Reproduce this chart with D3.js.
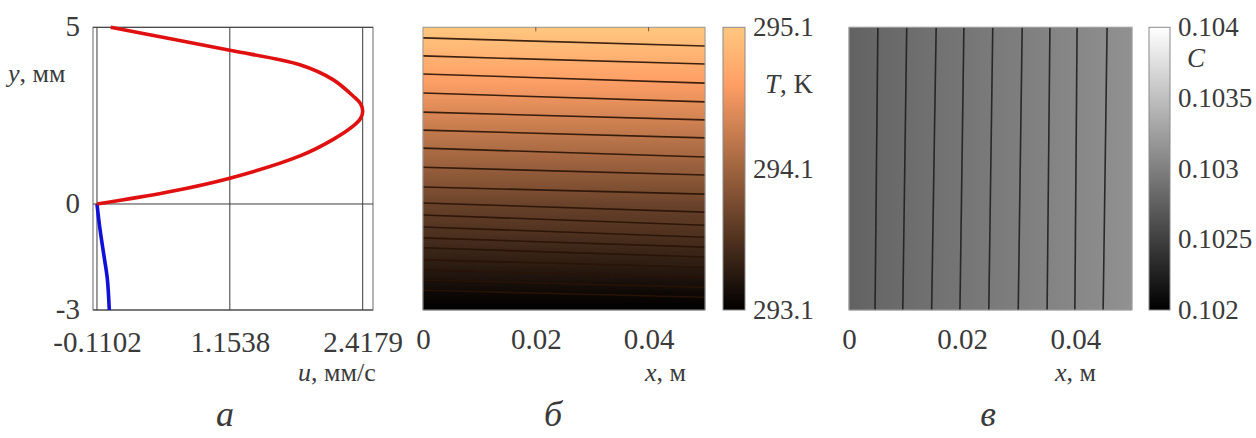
<!DOCTYPE html>
<html>
<head>
<meta charset="utf-8">
<script src="https://cdn.jsdelivr.net/npm/d3@7"></script>
<style>
body { margin: 0; background: #fff; }
</style>
</head>
<body>
<svg id="fig" width="1256" height="438"></svg>
<script>
"use strict"

//
// data
//
// panel a: velocity profile u(y)
var uTicks = [-0.1102, 1.1538, 2.4179];
var yTicks = [-3, 0, 5];
var redU  = [-0.1102, 0.553, 1.1538, 1.821, 2.138, 2.329, 2.397, 2.4179, 2.397, 2.329, 2.135, 1.821, 1.1538, 0.553, 0.02];
var redY  = [0, 0.33, 0.73, 1.36, 1.83, 2.21, 2.42, 2.62, 2.84, 3.05, 3.52, 3.94, 4.35, 4.70, 5.0];
var blueU = [-0.1102, -0.082, -0.044, -0.012, 0.007];
var blueY = [0, -0.70, -1.46, -2.11, -3.0];

// panels b, c: x axis
var xTicks = [0, 0.02, 0.04];

// panel b: temperature isolines (y, mm at x = 0 and at x = 0.05 m)
var tLevels    = [295.0, 294.86, 294.72, 294.58, 294.44, 294.30, 294.16, 294.02, 293.88,
                  293.74, 293.67, 293.60, 293.53, 293.46, 293.39, 293.32, 293.25, 293.18];
var tLineLeft  = [4.70, 4.19, 3.68, 3.14, 2.60, 2.09, 1.58, 1.04, 0.48,
                  0.03, -0.31, -0.65, -0.96, -1.24, -1.58, -1.87, -2.15, -2.44];
var tLineRight = [4.47, 3.96, 3.42, 2.89, 2.38, 1.87, 1.33, 0.82, 0.28,
                  -0.23, -0.60, -0.94, -1.22, -1.50, -1.79, -2.07, -2.36, -2.64];
var tEdge      = [295.1, 293.1];           // top, bottom of the field
var tBarTicks  = [293.1, 294.1, 295.1];

// panel c: concentration isolines (x, m at top and at bottom)
var cLevels    = [0.10281, 0.10285, 0.10289, 0.10292, 0.10296, 0.10299, 0.10303, 0.10306, 0.10310];
var cLineTop   = [0.0051, 0.0102, 0.0154, 0.0203, 0.0254, 0.0306, 0.0355, 0.0403, 0.0456];
var cLineBot   = [0.0046, 0.0095, 0.0146, 0.0196, 0.0247, 0.0299, 0.0350, 0.0399, 0.0449];
var cEdge      = [0.10277, 0.10314];       // left, right of the field
var cBarTicks  = [0.102, 0.1025, 0.103, 0.1035, 0.104];

//
// helpers
//
var FONT = "'Liberation Serif', 'Times New Roman', serif";
var INK = "#3a3a3a";
var svg = d3.select("#fig");
var defs = svg.append("defs");
var TOP = 27.3, BOT = 310;

function copper(t) {
	t = Math.max(0, Math.min(1, t));
	return d3.rgb(255 * Math.min(1, 1.25 * t), 255 * 0.7812 * t, 255 * 0.4975 * t);
}
function tColor(T) { return copper((T - 293.1) / 2.0); }
function cColor(C) { var g = 255 * Math.max(0, Math.min(1, (C - 0.102) / 0.002)); return d3.rgb(g, g, g); }

function label(x, y, parts, size, anchor) {
	var t = svg.append("text")
		.attr("x", x).attr("y", y)
		.style("font-family", FONT)
		.style("font-size", size + "px")
		.style("fill", INK)
		.attr("text-anchor", anchor || "start");
	parts.forEach(function(p) {
		t.append("tspan").style("font-style", p[1] ? "italic" : "normal").text(p[0]);
	});
	return t;
}

function styleAxis(g, size) {
	g.select(".domain").remove();
	g.selectAll(".tick line").remove();
	g.attr("font-family", null).attr("font-size", null);
	g.selectAll("text")
		.style("font-family", FONT)
		.style("font-size", size + "px")
		.style("fill", INK);
}

function gradient(id, x1, y1, x2, y2, stops) {
	var g = defs.append("linearGradient").attr("id", id)
		.attr("gradientUnits", "userSpaceOnUse")
		.attr("x1", x1).attr("y1", y1).attr("x2", x2).attr("y2", y2);
	stops.forEach(function(s) {
		g.append("stop").attr("offset", s[0]).attr("stop-color", s[1]);
	});
	return "url(#" + id + ")";
}

//
// panel a
//
var xA = d3.scaleLinear().domain([-0.148, 2.516]).range([93, 373]);
var yS = d3.scaleLinear().domain([-3, 5]).range([BOT, TOP]);

var gA = svg.append("g");
gA.append("rect")
	.attr("x", xA.range()[0]).attr("y", TOP)
	.attr("width", xA.range()[1] - xA.range()[0]).attr("height", BOT - TOP)
	.attr("fill", "none").attr("stroke", "#6a6a6a").attr("stroke-width", 1);
gA.selectAll("line.vg").data(uTicks).enter().append("line")
	.attr("x1", function(d) { return xA(d); }).attr("x2", function(d) { return xA(d); })
	.attr("y1", TOP).attr("y2", BOT)
	.attr("stroke", "#3c3c3c").attr("stroke-width", 1);
gA.selectAll("line.hg").data(yTicks).enter().append("line")
	.attr("x1", xA.range()[0]).attr("x2", xA.range()[1])
	.attr("y1", function(d) { return yS(d); }).attr("y2", function(d) { return yS(d); })
	.attr("stroke", "#3c3c3c").attr("stroke-width", 1);

var line = d3.line().curve(d3.curveCatmullRom.alpha(0.5))
	.x(function(d) { return xA(d[0]); })
	.y(function(d) { return yS(d[1]); });
gA.append("path").attr("d", line(d3.zip(blueU, blueY)))
	.attr("fill", "none").attr("stroke", "#1010d8").attr("stroke-width", 3.6);
gA.append("path").attr("d", line(d3.zip(redU, redY)))
	.attr("fill", "none").attr("stroke", "#e01010").attr("stroke-width", 3.6);

var axA = svg.append("g").attr("transform", "translate(0," + BOT + ")")
	.call(d3.axisBottom(xA).tickValues(uTicks).tickSize(0).tickPadding(21)
		.tickFormat(function(d) { return d.toFixed(4); }));
styleAxis(axA, 29);
var ayA = svg.append("g").attr("transform", "translate(" + xA.range()[0] + ",0)")
	.call(d3.axisLeft(yS).tickValues(yTicks).tickSize(0).tickPadding(13)
		.tickFormat(function(d) { return String(d); }));
styleAxis(ayA, 29);
ayA.selectAll("text").attr("dy", "0.28em");

label(8, 82, [["y", true], [", мм", false]], 26);
label(298, 381, [["u", true], [", мм/с", false]], 26);

//
// panel b
//
var xB = d3.scaleLinear().domain([0, 0.05]).range([423, 705]);
var gB = svg.append("g");

// bands between isolines, top edge first
var bandsB = [];
var upper = { l: 5, r: 5, T: tEdge[0] };
for (var i = 0; i <= tLevels.length; i++) {
	var lower = (i < tLevels.length)
		? { l: tLineLeft[i], r: tLineRight[i], T: tLevels[i] }
		: { l: -3, r: -3, T: tEdge[1] };
	bandsB.push({ up: upper, lo: lower });
	upper = lower;
}
gB.selectAll("path.band").data(bandsB).enter().append("path")
	.attr("d", function(d) {
		return "M" + xB(0) + "," + yS(d.up.l) + "L" + xB(0.05) + "," + yS(d.up.r) +
			"L" + xB(0.05) + "," + yS(d.lo.r) + "L" + xB(0) + "," + yS(d.lo.l) + "Z";
	})
	.attr("fill", function(d, k) {
		return gradient("gb" + k, 0, yS((d.up.l + d.up.r) / 2), 0, yS((d.lo.l + d.lo.r) / 2),
			[[0, tColor(d.up.T)], [1, tColor(d.lo.T)]]);
	})
	.attr("stroke", function(d, k) { return "url(#gb" + k + ")"; })
	.attr("stroke-width", 0.6);
gB.selectAll("line.iso").data(tLevels).enter().append("line")
	.attr("x1", xB(0)).attr("x2", xB(0.05))
	.attr("y1", function(d, k) { return yS(tLineLeft[k]); })
	.attr("y2", function(d, k) { return yS(tLineRight[k]); })
	.attr("stroke", "rgba(40,18,4,0.9)").attr("stroke-width", 1.6);
gB.append("rect")
	.attr("x", xB(0)).attr("y", TOP).attr("width", xB(0.05) - xB(0)).attr("height", BOT - TOP)
	.attr("fill", "none").attr("stroke", "#9a9a9a").attr("stroke-width", 1);
gB.selectAll("line.tk").data(xTicks.slice(1)).enter().append("line")
	.attr("x1", function(d) { return xB(d); }).attr("x2", function(d) { return xB(d); })
	.attr("y1", TOP).attr("y2", TOP + 4)
	.attr("stroke", "rgba(60,40,20,0.7)").attr("stroke-width", 1);

var axB = svg.append("g").attr("transform", "translate(0," + BOT + ")")
	.call(d3.axisBottom(xB).tickValues(xTicks).tickSize(0).tickPadding(18)
		.tickFormat(function(d) { return d === 0 ? "0" : d.toFixed(2); }));
styleAxis(axB, 29);
label(645, 381, [["x", true], [", м", false]], 26);

// temperature colorbar
var yT = d3.scaleLinear().domain([293.1, 295.1]).range([BOT, TOP]);
var barStopsT = d3.range(0, 1.0001, 0.1).map(function(f) { return [f, tColor(295.1 - 2 * f)]; });
svg.append("rect")
	.attr("x", 723).attr("y", TOP).attr("width", 22).attr("height", BOT - TOP)
	.attr("fill", gradient("barT", 0, TOP, 0, BOT, barStopsT))
	.attr("stroke", "#8a8a8a").attr("stroke-width", 1);
var axT = svg.append("g").attr("transform", "translate(745,0)")
	.call(d3.axisRight(yT).tickValues(tBarTicks).tickSize(0).tickPadding(8)
		.tickFormat(d3.format(".1f")));
styleAxis(axT, 27);
label(765, 93, [["T", true], [", K", false]], 27);

//
// panel c
//
var xC = d3.scaleLinear().domain([0, 0.05]).range([849, 1132]);
var gC = svg.append("g");

var bandsC = [];
var left = { t: 0, b: 0, C: cEdge[0] };
for (var j = 0; j <= cLevels.length; j++) {
	var right = (j < cLevels.length)
		? { t: cLineTop[j], b: cLineBot[j], C: cLevels[j] }
		: { t: 0.05, b: 0.05, C: cEdge[1] };
	bandsC.push({ le: left, ri: right });
	left = right;
}
gC.selectAll("path.band").data(bandsC).enter().append("path")
	.attr("d", function(d) {
		return "M" + xC(d.le.t) + "," + TOP + "L" + xC(d.ri.t) + "," + TOP +
			"L" + xC(d.ri.b) + "," + BOT + "L" + xC(d.le.b) + "," + BOT + "Z";
	})
	.attr("fill", function(d, k) {
		return gradient("gc" + k, xC((d.le.t + d.le.b) / 2), 0, xC((d.ri.t + d.ri.b) / 2), 0,
			[[0, cColor(d.le.C)], [1, cColor(d.ri.C)]]);
	})
	.attr("stroke", function(d, k) { return "url(#gc" + k + ")"; })
	.attr("stroke-width", 0.6);
gC.selectAll("line.iso").data(cLevels).enter().append("line")
	.attr("x1", function(d, k) { return xC(cLineTop[k]); })
	.attr("x2", function(d, k) { return xC(cLineBot[k]); })
	.attr("y1", TOP).attr("y2", BOT)
	.attr("stroke", "rgba(30,30,30,0.9)").attr("stroke-width", 1.6);
gC.append("rect")
	.attr("x", xC(0)).attr("y", TOP).attr("width", xC(0.05) - xC(0)).attr("height", BOT - TOP)
	.attr("fill", "none").attr("stroke", "#a0a0a0").attr("stroke-width", 1);

var axC = svg.append("g").attr("transform", "translate(0," + BOT + ")")
	.call(d3.axisBottom(xC).tickValues(xTicks).tickSize(0).tickPadding(18)
		.tickFormat(function(d) { return d === 0 ? "0" : d.toFixed(2); }));
styleAxis(axC, 29);
label(1055, 381, [["x", true], [", м", false]], 26);

// concentration colorbar
var yC = d3.scaleLinear().domain([0.102, 0.104]).range([BOT, TOP]);
svg.append("rect")
	.attr("x", 1149).attr("y", TOP).attr("width", 21).attr("height", BOT - TOP)
	.attr("fill", gradient("barC", 0, TOP, 0, BOT, [[0, "#ffffff"], [1, "#000000"]]))
	.attr("stroke", "#8a8a8a").attr("stroke-width", 1);
var axCb = svg.append("g").attr("transform", "translate(1170,0)")
	.call(d3.axisRight(yC).tickValues(cBarTicks).tickSize(0).tickPadding(8)
		.tickFormat(function(d) { return String(+d.toFixed(4)); }));
styleAxis(axCb, 27);
label(1187, 67, [["C", true]], 27);

//
// panel letters
//
label(225, 426, [["а", true]], 36, "middle");
label(553, 426, [["б", true]], 36, "middle");
label(988, 426, [["в", true]], 36, "middle");
</script>
</body>
</html>
